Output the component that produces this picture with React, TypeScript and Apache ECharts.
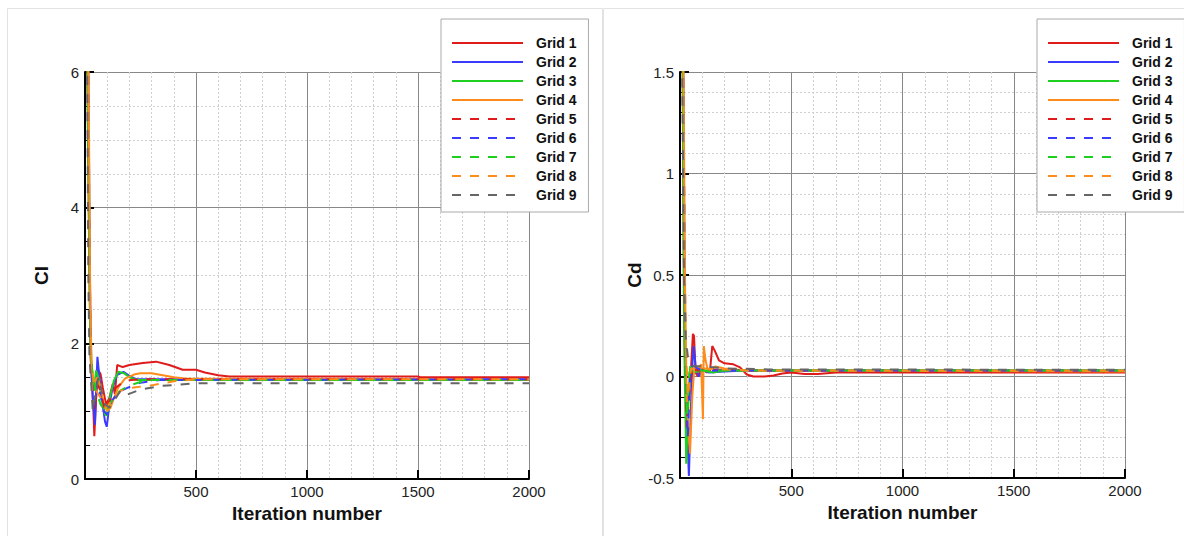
import React, { useEffect, useRef } from "react";
import * as echarts from "echarts";

type Pt = [number, number];

const seriesNames = ["Grid 1", "Grid 2", "Grid 3", "Grid 4", "Grid 5", "Grid 6", "Grid 7", "Grid 8", "Grid 9"];
const seriesColors = ["#e01b1b", "#3b3bff", "#1fcf1f", "#ff8c1a", "#e01b1b", "#3b3bff", "#1fcf1f", "#ff8c1a", "#666666"];
const seriesDashed = [false, false, false, false, true, true, true, true, true];

const xTicks = { min: 0, max: 2000, interval: 500 };
const clTicks = { min: 0, max: 6, interval: 2 };
const cdTicks = { min: -0.5, max: 1.5, interval: 0.5 };

// Cl (lift coefficient) histories
const cl1: Pt[] = [[0, 7], [10, 6], [20, 3], [25, 1.8], [30, 1.5], [38, 1.0], [42, 0.63], [50, 1.2], [60, 1.6], [70, 1.55], [80, 1.35], [95, 1.1], [110, 1.2], [125, 1.4], [135, 1.25], [145, 1.68], [170, 1.65], [200, 1.68], [260, 1.71], [320, 1.73], [380, 1.68], [440, 1.61], [500, 1.61], [540, 1.57], [600, 1.53], [650, 1.51], [1000, 1.51], [1500, 1.51], [1510, 1.5], [2000, 1.5]];
const cl2: Pt[] = [[0, 7], [15, 6], [22, 3], [28, 1.7], [35, 1.2], [45, 0.8], [50, 1.3], [56, 1.8], [62, 1.6], [75, 1.2], [90, 0.85], [98, 0.77], [110, 1.1], [125, 1.35], [143, 1.53], [173, 1.58], [200, 1.52], [233, 1.47], [300, 1.47], [2000, 1.47]];
const cl3: Pt[] = [[0, 7], [12, 6], [20, 3], [26, 1.8], [32, 1.6], [40, 1.3], [50, 1.6], [60, 1.5], [75, 1.2], [90, 0.95], [98, 0.94], [115, 1.25], [130, 1.45], [150, 1.58], [175, 1.56], [200, 1.5], [233, 1.46], [2000, 1.46]];
const cl4: Pt[] = [[0, 7], [16, 6], [24, 2.5], [30, 1.7], [40, 1.4], [55, 1.5], [70, 1.35], [85, 1.1], [100, 1.0], [115, 1.05], [128, 1.17], [150, 1.35], [180, 1.48], [220, 1.54], [250, 1.56], [300, 1.56], [350, 1.53], [400, 1.5], [450, 1.48], [2000, 1.47]];
const cl5: Pt[] = [[0, 7], [14, 6], [20, 3], [28, 1.6], [35, 1.3], [45, 1.0], [55, 1.4], [70, 1.3], [90, 1.0], [110, 1.15], [140, 1.35], [180, 1.45], [250, 1.47], [2000, 1.47]];
const cl6: Pt[] = [[0, 7], [14, 6], [22, 2.5], [30, 1.5], [40, 1.0], [50, 1.3], [65, 1.3], [85, 1.0], [100, 0.95], [120, 1.15], [150, 1.28], [188, 1.34], [250, 1.42], [338, 1.46], [2000, 1.47]];
const cl7: Pt[] = [[0, 7], [13, 6], [20, 3], [26, 1.8], [35, 1.5], [50, 1.3], [70, 1.1], [90, 1.0], [110, 1.1], [140, 1.25], [163, 1.31], [200, 1.38], [279, 1.46], [2000, 1.46]];
const cl8: Pt[] = [[0, 7], [15, 6], [22, 3], [28, 1.5], [38, 1.1], [50, 1.3], [70, 1.2], [95, 1.05], [120, 1.15], [160, 1.3], [220, 1.35], [300, 1.38], [400, 1.44], [500, 1.47], [2000, 1.47]];
const cl9: Pt[] = [[0, 7], [10, 6], [15, 3], [20, 1.8], [28, 1.4], [35, 1.0], [45, 1.2], [60, 1.5], [75, 1.3], [90, 1.1], [110, 1.05], [130, 1.15], [160, 1.3], [188, 1.24], [250, 1.32], [338, 1.37], [489, 1.41], [2000, 1.41]];

// Cd (drag coefficient) histories
const cd1: Pt[] = [[0, 2], [12, 1.5], [18, 0.3], [25, -0.05], [32, -0.14], [40, -0.1], [50, 0.05], [58, 0.21], [63, 0.2], [70, 0.02], [80, 0.0], [100, 0.04], [120, 0.02], [135, 0.03], [145, 0.15], [155, 0.13], [175, 0.08], [200, 0.065], [240, 0.06], [270, 0.045], [300, 0.01], [330, 0.0], [380, 0.0], [420, 0.005], [460, 0.015], [500, 0.02], [560, 0.012], [620, 0.012], [700, 0.02], [2000, 0.02]];
const cd2: Pt[] = [[0, 2], [15, 1.5], [22, 0.2], [30, -0.2], [40, -0.49], [48, -0.2], [55, 0.05], [62, 0.15], [70, 0.05], [85, 0.0], [100, 0.03], [130, 0.02], [200, 0.025], [300, 0.03], [2000, 0.03]];
const cd3: Pt[] = [[0, 2], [12, 1.5], [20, 0.1], [28, -0.43], [35, -0.2], [45, 0.05], [60, 0.02], [100, 0.03], [150, 0.02], [200, 0.03], [2000, 0.03]];
const cd4: Pt[] = [[0, 2], [16, 1.5], [22, 0.5], [30, -0.1], [45, -0.38], [55, -0.1], [65, 0.05], [80, 0.03], [95, 0.06], [103, -0.21], [107, 0.15], [115, 0.08], [125, 0.03], [160, 0.05], [200, 0.04], [250, 0.035], [300, 0.03], [2000, 0.025]];
const cd5: Pt[] = [[0, 2], [14, 1.5], [20, 0.4], [30, -0.25], [40, -0.1], [55, 0.05], [80, 0.03], [150, 0.035], [300, 0.03], [2000, 0.03]];
const cd6: Pt[] = [[0, 2], [14, 1.5], [25, 0.1], [35, -0.3], [45, 0.0], [60, 0.05], [100, 0.03], [300, 0.03], [2000, 0.03]];
const cd7: Pt[] = [[0, 2], [13, 1.5], [22, 0.2], [32, -0.2], [42, 0.02], [60, 0.04], [100, 0.03], [300, 0.03], [2000, 0.03]];
const cd8: Pt[] = [[0, 2], [15, 1.5], [25, 0.2], [35, -0.1], [50, 0.04], [100, 0.04], [300, 0.03], [2000, 0.03]];
const cd9: Pt[] = [[0, 2], [10, 1.5], [18, 0.5], [25, 0.2], [35, 0.1], [60, 0.05], [100, 0.05], [200, 0.04], [400, 0.035], [2000, 0.033]];

const clData = [cl1, cl2, cl3, cl4, cl5, cl6, cl7, cl8, cl9];
const cdData = [cd1, cd2, cd3, cd4, cd5, cd6, cd7, cd8, cd9];

const FONT = "'Liberation Sans', Arial, Helvetica, sans-serif";

function makeXAxis(gridIndex: number) {
  return {
    type: "value",
    gridIndex,
    min: xTicks.min,
    max: xTicks.max,
    interval: xTicks.interval,
    name: "Iteration number",
    nameLocation: "middle",
    nameGap: 18,
    nameTextStyle: { fontSize: 19, fontWeight: "bold", color: "#111", fontFamily: FONT },
    axisLine: { show: true, onZero: false, lineStyle: { color: "#000", width: 2 } },
    axisTick: { show: true, inside: true, length: 9, lineStyle: { color: "#000", width: 2 } },
    minorTick: { show: false, splitNumber: 5 },
    axisLabel: { showMinLabel: false, fontSize: 15, color: "#222", margin: 5, fontFamily: FONT, formatter: (v: number) => String(v) },
    splitLine: { show: true, lineStyle: { color: "#888", width: 1 } },
    minorSplitLine: { show: true, lineStyle: { color: "#cfcfcf", width: 1, type: [2, 2] } },
  };
}

function makeYAxis(gridIndex: number, name: string, t: { min: number; max: number; interval: number }, minorSplit: number) {
  return {
    type: "value",
    gridIndex,
    min: t.min,
    max: t.max,
    interval: t.interval,
    name,
    nameLocation: "middle",
    nameGap: 34,
    nameTextStyle: { fontSize: 19, fontWeight: "bold", color: "#111", fontFamily: FONT },
    axisLine: { show: true, onZero: false, lineStyle: { color: "#000", width: 2 } },
    axisTick: { show: true, inside: true, length: 9, lineStyle: { color: "#000", width: 2 } },
    minorTick: { show: true, splitNumber: minorSplit, length: 5, lineStyle: { color: "#000", width: 1 } },
    axisLabel: { fontSize: 15, color: "#222", margin: 6, fontFamily: FONT, formatter: (v: number) => String(v) },
    splitLine: { show: true, lineStyle: { color: "#888", width: 1 } },
    minorSplitLine: { show: true, lineStyle: { color: "#cfcfcf", width: 1, type: [2, 2] } },
  };
}

function makeSeries(data: Pt[][], axisIndex: number) {
  return data.map((d, i) => ({
    name: seriesNames[i],
    type: "line",
    xAxisIndex: axisIndex,
    yAxisIndex: axisIndex,
    data: d,
    symbol: "none",
    showSymbol: false,
    smooth: false,
    clip: true,
    lineStyle: { color: seriesColors[i], width: 2, type: seriesDashed[i] ? [9, 9] : "solid" },
    itemStyle: { color: seriesColors[i] },
    z: 3,
  }));
}

function makeLegend(left: number) {
  return {
    data: seriesNames,
    orient: "vertical",
    left,
    top: 19,
    itemWidth: 71,
    itemHeight: 14,
    itemGap: 5,
    padding: [17, 12, 10, 10],
    backgroundColor: "#ffffff",
    borderColor: "#aaaaaa",
    borderWidth: 1,
    borderRadius: 0,
    selectedMode: false,
    z: 10,
    itemStyle: { opacity: 0 },
    textStyle: { fontSize: 14, fontWeight: "bold", color: "#111", fontFamily: FONT, padding: [0, 0, 0, 8] },
  };
}

export default function App() {
  const ref = useRef<HTMLDivElement>(null);
  useEffect(() => {
    if (!ref.current) return;
    const chart = echarts.init(ref.current, undefined, { renderer: "svg" });
    chart.setOption({
      animation: false,
      backgroundColor: "#ffffff",
      textStyle: { fontFamily: FONT },
      grid: [
        { left: 85, top: 72, width: 444, height: 407 },
        { left: 680, top: 72, width: 445, height: 406 },
      ],
      xAxis: [makeXAxis(0), makeXAxis(1)],
      yAxis: [makeYAxis(0, "Cl", clTicks, 4), makeYAxis(1, "Cd", cdTicks, 5)],
      legend: [makeLegend(441), makeLegend(1037)],
      graphic: [
        { type: "rect", z: -10, shape: { x: 7.5, y: 8.5, width: 595, height: 600 }, style: { fill: "none", stroke: "#e2e2e2", lineWidth: 1 } },
        { type: "rect", z: -10, shape: { x: 603.5, y: 8.5, width: 620, height: 600 }, style: { fill: "none", stroke: "#e2e2e2", lineWidth: 1 } },
      ],
      series: [...makeSeries(clData, 0), ...makeSeries(cdData, 1)],
    });
    return () => chart.dispose();
  }, []);
  return <div ref={ref} style={{ position: "absolute", left: 0, top: 0, width: 1184, height: 536 }} />;
}
